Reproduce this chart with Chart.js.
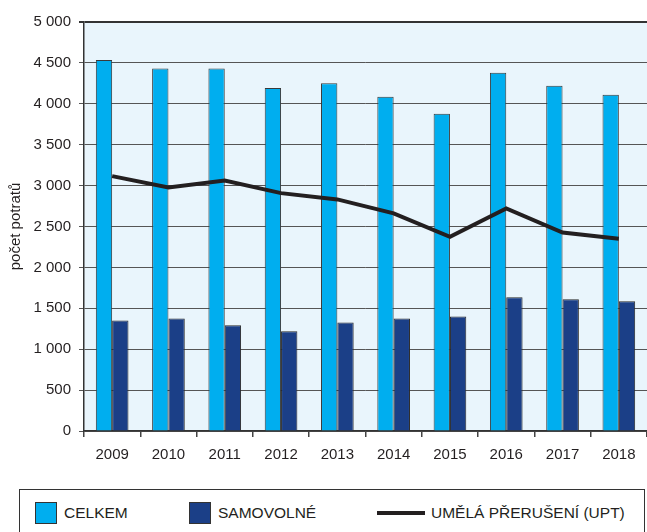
<!DOCTYPE html>
<html>
<head>
<meta charset="utf-8">
<script src="https://cdn.jsdelivr.net/npm/chart.js@4"></script>
<style>
  body { margin: 0; background: #fff; font-family: 'Liberation Sans', Arial, sans-serif; }
  #wrap { position: relative; width: 647px; height: 532px; overflow: hidden; }
  #chartBox { position: absolute; left: 0; top: 0; width: 647px; height: 475px; }
  #legend { position: absolute; left: 19px; top: 489px; width: 626px; height: 70px;
            border: 1.5px solid #333; box-sizing: border-box; }
  .item { position: absolute; top: 12px; font-size: 15.5px; color: #231f20; line-height: 22px; }
  .sw { display: inline-block; width: 22px; height: 22px; border: 1px solid #333;
        vertical-align: top; margin-right: 7px; box-sizing: border-box; }
  .ln { display: inline-block; width: 48px; height: 4px; background: #231f20;
        vertical-align: middle; margin-right: 6px; position: relative; top: -1px; }
</style>
</head>
<body>
<div id="wrap">
  <div id="chartBox"><canvas id="c"></canvas></div>
  <div id="legend"></div>
</div>
<script>
var YEARS = ['2009', '2010', '2011', '2012', '2013', '2014', '2015', '2016', '2017', '2018'];
var CELKEM = [4535, 4433, 4433, 4193, 4250, 4086, 3878, 4380, 4221, 4111];
var SAMOVOLNE = [1351, 1375, 1293, 1220, 1326, 1375, 1400, 1636, 1611, 1587];
var UPT = [3116, 2978, 3063, 2908, 2831, 2660, 2373, 2721, 2426, 2349];
var Y_TICKS = [0, 500, 1000, 1500, 2000, 2500, 3000, 3500, 4000, 4500, 5000];
var LABELS = ['CELKEM', 'SAMOVOLNÉ', 'UMĚLÁ PŘERUŠENÍ (UPT)'];

var FONT = "'Liberation Sans', Arial, sans-serif";

// light blue plot background
var plotBg = {
  id: 'plotBg',
  beforeDraw: function (chart) {
    var a = chart.chartArea;
    var ctx = chart.ctx;
    ctx.save();
    ctx.fillStyle = '#e9f5fc';
    ctx.fillRect(a.left, a.top, a.right - a.left, a.bottom - a.top);
    ctx.restore();
  }
};

function fmtNum(v) {
  return String(v).replace(/\B(?=(\d{3})+(?!\d))/g, ' ');
}

new Chart(document.getElementById('c'), {
  data: {
    labels: YEARS,
    datasets: [
      {
        type: 'line',
        label: LABELS[2],
        data: UPT,
        borderColor: '#231f20',
        borderWidth: 4,
        pointRadius: 0,
        tension: 0,
        order: 0
      },
      {
        type: 'bar',
        label: LABELS[0],
        data: CELKEM,
        backgroundColor: '#00aeef',
        borderColor: '#3a3a3a',
        borderWidth: 1,
        categoryPercentage: 0.58,
        barPercentage: 1.0,
        order: 1
      },
      {
        type: 'bar',
        label: LABELS[1],
        data: SAMOVOLNE,
        backgroundColor: '#1b3f87',
        borderColor: '#2a2a2a',
        borderWidth: 1,
        categoryPercentage: 0.58,
        barPercentage: 1.0,
        order: 1
      }
    ]
  },
  options: {
    responsive: true,
    maintainAspectRatio: false,
    animation: false,
    layout: { padding: { top: 22, right: 0, bottom: 0, left: 0 } },
    plugins: { legend: { display: false }, tooltip: { enabled: false } },
    scales: {
      x: {
        offset: true,
        afterFit: function (s) { s.height = 44; },
        grid: { offset: true, drawOnChartArea: false, drawTicks: true, tickLength: 6, color: '#444', lineWidth: 1.5 },
        border: { color: '#333', width: 1.5 },
        ticks: { color: '#231f20', font: { family: FONT, size: 15 }, padding: 9, maxRotation: 0 }
      },
      y: {
        min: 0,
        max: 5000,
        afterFit: function (s) { s.width = 84; },
        afterBuildTicks: function (s) { s.ticks = Y_TICKS.map(function (v) { return { value: v }; }); },
        grid: {
          color: function (c) { return c.tick && c.tick.value === 5000 ? '#333' : '#555'; },
          lineWidth: function (c) { return c.tick && c.tick.value === 5000 ? 2 : 1; },
          tickLength: 5
        },
        border: { color: '#333', width: 1.5 },
        ticks: {
          color: '#231f20',
          font: { family: FONT, size: 15 },
          padding: 8,
          callback: function (v) { return fmtNum(v); }
        },
        title: {
          display: true,
          text: 'počet potratů',
          color: '#231f20',
          font: { family: FONT, size: 15 },
          padding: { top: 7, bottom: 0 }
        }
      }
    }
  },
  plugins: [plotBg]
});

var legend = document.getElementById('legend');
var html = '';
html += '<div class="item" style="left:15px"><span class="sw" style="background:#00aeef"></span>' + LABELS[0] + '</div>';
html += '<div class="item" style="left:169px"><span class="sw" style="background:#1b3f87"></span>' + LABELS[1] + '</div>';
html += '<div class="item" style="left:357px"><span class="ln"></span>' + LABELS[2] + '</div>';
legend.innerHTML = html;
</script>
</body>
</html>
